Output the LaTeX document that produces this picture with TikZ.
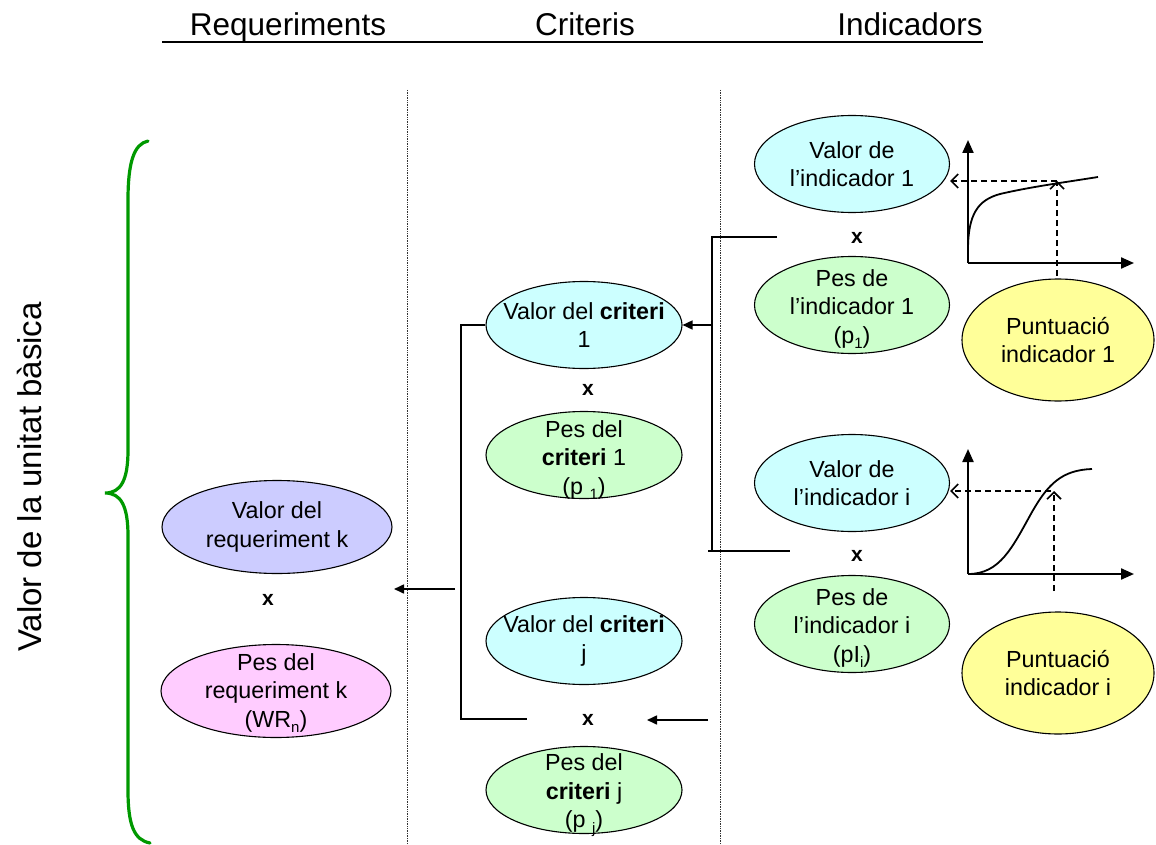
\documentclass[tikz,border=0pt]{standalone}
\usepackage{fontspec}
\setmainfont{Liberation Sans}
\usetikzlibrary{shapes.geometric,arrows.meta}
\definecolor{cyanf}{RGB}{204,255,255}
\definecolor{greenf}{RGB}{204,255,204}
\definecolor{lavf}{RGB}{204,204,255}
\definecolor{pinkf}{RGB}{255,204,255}
\definecolor{yellf}{RGB}{255,255,153}
\definecolor{braceg}{RGB}{0,153,0}
\newcommand{\lowsub}[1]{\raisebox{-0.45ex}{\fontsize{15}{16}\selectfont #1}}
\tikzset{
  ell/.style={ellipse, draw=black, line width=1.1pt, inner sep=0pt},
  indell/.style={ell, minimum width=195pt, minimum height=97pt},
  critell/.style={ell, minimum width=196pt, minimum height=87pt},
  reqell/.style={ell, minimum width=230pt, minimum height=93pt},
  puntell/.style={ell, minimum width=192pt, minimum height=122pt, fill=yellf},
  txt/.style={align=center, inner sep=0pt, font=\fontsize{23.3}{28.5}\selectfont},
  times/.style={inner sep=0pt, font=\bfseries\fontsize{21}{24}\selectfont},
  head/.style={anchor=base, inner sep=0pt, font=\fontsize{31.5}{36}\selectfont},
  conn/.style={line width=1.6pt},
  connarrow/.style={line width=1.6pt, -{Triangle[length=10pt,width=9pt]}},
  axis/.style={line width=2.2pt, -{Triangle[length=13pt,width=11pt]}},
  curve/.style={line width=1.8pt},
  dasharrow/.style={line width=1.6pt, dash pattern=on 6pt off 4pt, -{Straight Barb[length=7pt,width=14pt,line width=1.6pt]}},
  sep/.style={line width=0.7pt, densely dotted, black!80},
}
\begin{document}
\begin{tikzpicture}[x=1pt,y=-1pt]
\useasboundingbox (0,0) rectangle (1156,845);
\fill[white] (0,0) rectangle (1156,845);

% header
\node[head] (hreq) at (288,36) {Requeriments};
\node[head] (hcrit) at (585,36) {Criteris};
\node[head] (hind) at (910,36) {Indicadors};
\coordinate (ulL) at (162,42);
\coordinate (ulR) at (983,42);
\draw[line width=2.4pt] (ulL) -- (ulR);

% separators
\coordinate (s1t) at (407,90); \coordinate (s1b) at (407,845);
\coordinate (s2t) at (720,90); \coordinate (s2b) at (720,845);
\draw[sep] (s1t) -- (s1b);
\draw[sep] (s2t) -- (s2b);

% brace and vertical label
\draw[braceg, line width=3.2pt, line cap=round]
  (148,141) .. controls (134,144) and (128,162) .. (128,200)
  -- (128,450) .. controls (128,480) and (121,493) .. (105,493)
  .. controls (121,493) and (128,506) .. (128,536)
  -- (128,790) .. controls (128,825) and (134,840) .. (150,843);
\node[rotate=90, inner sep=0pt, font=\fontsize{33}{38}\selectfont] (vlab) at (30,477) {Valor de la unitat bàsica};

% requeriments column
\node[reqell, fill=lavf] (vreq) at (277,527) {};
\node[txt] (vreqt) at (vreq) {Valor del\\requeriment k};
\node[times] (xreq) at (268,600) {x};
\node[reqell, fill=pinkf] (preq) at (276,691) {};
\node[txt] (preqt) at ([yshift=-2pt]preq.center) {Pes del\\requeriment k\\(WR\lowsub{n})};

% criteris column
\node[critell, fill=cyanf] (vc1) at (584,325) {};
\node[txt] (vc1t) at (vc1) {Valor del \textbf{criteri}\\1};
\node[times] (xc1) at (588,390) {x};
\node[critell, fill=greenf] (pc1) at (584,455) {};
\node[txt] (pc1t) at ([yshift=-5pt]pc1.center) {Pes del\\\textbf{criteri} 1\\(p \lowsub{1})};
\node[critell, fill=cyanf] (vcj) at (584,641) {};
\node[txt] (vcjt) at (vcj) {Valor del \textbf{criteri}\\j};
\node[times] (xcj) at (588,720) {x};
\node[critell, fill=greenf] (pcj) at (584,790) {};
\node[txt] (pcjt) at ([yshift=-5pt]pcj.center) {Pes del\\\textbf{criteri} j\\(p \lowsub{j})};

% indicadors column
\node[indell, fill=cyanf] (vi1) at (852,164) {};
\node[txt] (vi1t) at (vi1) {Valor de\\l’indicador 1};
\node[times] (xi1) at (857,238) {x};
\node[indell, fill=greenf] (pi1) at (852,305) {};
\node[txt] (pi1t) at ([yshift=-4pt]pi1.center) {Pes de\\l’indicador 1\\(p\lowsub{1})};
\node[puntell] (pu1) at (1058,340) {};
\node[txt] (pu1t) at (pu1) {Puntuació\\indicador 1};

\node[indell, fill=cyanf] (vii) at (852,483) {};
\node[txt] (viit) at (vii) {Valor de\\l’indicador i};
\node[times] (xii) at (857,556) {x};
\node[indell, fill=greenf] (pii) at (852,624) {};
\node[txt] (piit) at ([yshift=-4pt]pii.center) {Pes de\\l’indicador i\\(pI\lowsub{i})};
\node[puntell] (pui) at (1058,673) {};
\node[txt] (puit) at (pui) {Puntuació\\indicador i};

% graph 1
\coordinate (o1) at (968,263);
\draw[axis] (o1) -- (968,140);
\draw[axis] (o1) -- (1134,263);
\draw[curve] (968,250) .. controls (968,214) and (978,200) .. (1000,194)
  .. controls (1030,187) and (1060,183) .. (1098,177);
\coordinate (g1p) at (1057,181);
\coordinate (g1b) at (1057,276);
\draw[dasharrow] (g1p) -- (vi1.east |- g1p);
\draw[dasharrow] (g1b) -- (g1p);

% graph 2
\coordinate (o2) at (968,574);
\draw[axis] (o2) -- (968,449);
\draw[axis] (o2) -- (1134,574);
\draw[curve] (968,574) .. controls (1000,574) and (1012,548) .. (1032,512)
  .. controls (1048,484) and (1062,470) .. (1092,469);
\coordinate (g2p) at (1051,491);
\coordinate (g2b) at (1054,591);
\coordinate (g2t) at (1054,491);
\draw[dasharrow] (g2p) -- (vii.east |- g2p);
\draw[dasharrow] (g2b) -- (g2t);

% right bracket
\coordinate (rbt) at (777,237);
\coordinate (rbtc) at (712,237);
\coordinate (rbbc) at (712,551);
\coordinate (rbb) at (790,551);
\coordinate (rbbl) at (708,551);
\draw[conn] (rbt) -- (rbtc) -- (rbbc);
\draw[conn] (rbbl) -- (rbb);
\draw[connarrow] (rbtc |- vc1.east) -- (vc1.east);
\coordinate (ajs) at (708,720);
\coordinate (aje) at (647,720);
\draw[connarrow] (ajs) -- (aje);

% center bracket
\coordinate (cbt) at (461,325);
\coordinate (cbb) at (461,719);
\coordinate (cbr) at (527,719);
\draw[conn] (vc1.west) -- (cbt) -- (cbb) -- (cbr);
\coordinate (ars) at (455,589);
\coordinate (are) at (394,589);
\draw[connarrow] (ars) -- (are);
\end{tikzpicture}
\end{document}
